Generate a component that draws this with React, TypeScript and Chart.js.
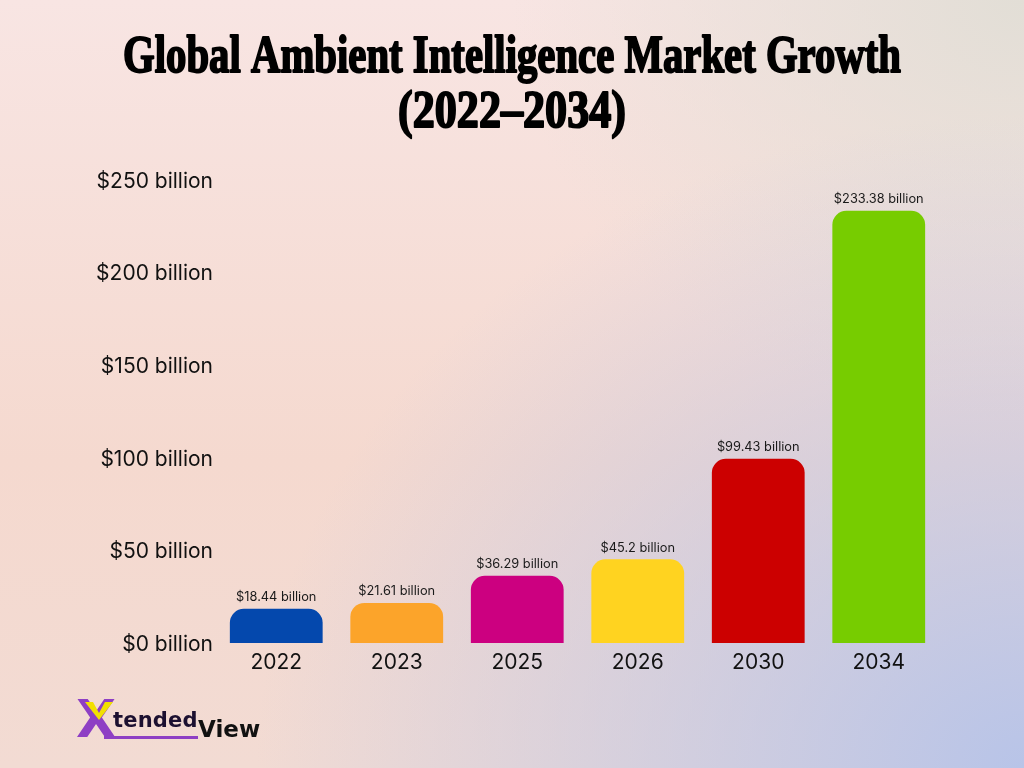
import React, { useEffect, useRef } from "react";
import { Chart, registerables } from "chart.js";

Chart.register(...registerables);

const years = ["2022", "2023", "2025", "2026", "2030", "2034"];
const marketValues = [18.44, 21.61, 36.29, 45.2, 99.43, 233.38];
const valueLabels = [
  "$18.44 billion",
  "$21.61 billion",
  "$36.29 billion",
  "$45.2 billion",
  "$99.43 billion",
  "$233.38 billion",
];
const barColors = ["#0448ad", "#fca42a", "#cc0080", "#ffd320", "#cc0000", "#77cc00"];
const yTickValues = [0, 50, 100, 150, 200, 250];
const titleLines = ["Global Ambient Intelligence Market Growth", "(2022–2034)"];

const TITLE_FONT = '"Liberation Serif", "DejaVu Serif", serif';
const UI_FONT = 'Inter, "Noto Sans", sans-serif';

const titlePlugin = {
  id: "condensedTitle",
  afterDraw(chart: any) {
    const ctx = chart.ctx;
    const specs = [
      { text: titleLines[0], baseline: 72, width: 778 },
      { text: titleLines[1], baseline: 127, width: 228 },
    ];
    ctx.save();
    ctx.fillStyle = "#000";
    ctx.strokeStyle = "#000";
    ctx.lineWidth = 2;
    ctx.lineJoin = "round";
    ctx.font = `bold 53px ${TITLE_FONT}`;
    ctx.textAlign = "center";
    ctx.textBaseline = "alphabetic";
    for (const s of specs) {
      const w = ctx.measureText(s.text).width;
      const sx = s.width / w;
      ctx.save();
      ctx.translate(512, s.baseline);
      ctx.scale(sx, 1);
      ctx.fillText(s.text, 0, 0);
      ctx.strokeText(s.text, 0, 0);
      ctx.restore();
    }
    ctx.restore();
  },
};

const valueLabelPlugin = {
  id: "valueLabels",
  afterDatasetsDraw(chart: any) {
    const ctx = chart.ctx;
    const meta = chart.getDatasetMeta(0);
    ctx.save();
    ctx.font = `12.8px ${UI_FONT}`;
    ctx.fillStyle = "#1a1a1a";
    ctx.textAlign = "center";
    ctx.textBaseline = "bottom";
    meta.data.forEach((bar: any, i: number) => {
      ctx.fillText(valueLabels[i], bar.x, bar.y - 5);
    });
    ctx.restore();
  },
};

function Logo() {
  return (
    <div
      style={{
        position: "absolute",
        left: 76,
        top: 698,
        height: 48,
        width: 200,
        fontFamily: '"DejaVu Sans", "Noto Sans", sans-serif',
      }}
    >
      <span
        style={{
          position: "absolute",
          left: 0,
          top: -8,
          fontSize: 52,
          fontWeight: 900,
          color: "#8e3fc4",
          lineHeight: "58px",
        }}
      >
        X
      </span>
      <svg width="32" height="18" style={{ position: "absolute", left: 7, top: 4 }}>
        <polygon points="2,0 10,0 16,11 22,0 30,0 16,18" fill="#f2e000" />
      </svg>
      <span
        style={{
          position: "absolute",
          left: 37,
          top: 10,
          fontSize: 21,
          fontWeight: 700,
          color: "#1c1030",
          lineHeight: "24px",
          letterSpacing: 0.2,
        }}
      >
        tended
      </span>
      <div
        style={{
          position: "absolute",
          left: 28,
          top: 38,
          width: 94,
          height: 3,
          background: "#8e3fc4",
        }}
      />
      <span
        style={{
          position: "absolute",
          left: 122,
          top: 18,
          fontSize: 23,
          fontWeight: 700,
          color: "#111",
          lineHeight: "26px",
        }}
      >
        View
      </span>
    </div>
  );
}

export default function App() {
  const canvasRef = useRef<HTMLCanvasElement | null>(null);

  useEffect(() => {
    if (!canvasRef.current) return;
    const chart = new Chart(canvasRef.current, {
      type: "bar",
      data: {
        labels: years,
        datasets: [
          {
            data: marketValues,
            backgroundColor: barColors,
            borderWidth: 0,
            borderRadius: { topLeft: 14, topRight: 14, bottomLeft: 0, bottomRight: 0 },
            borderSkipped: "bottom",
            barPercentage: 0.77,
            categoryPercentage: 1,
          },
        ],
      },
      options: {
        responsive: false,
        animation: false,
        layout: { padding: { top: 180, right: 85, left: 0, bottom: 0 } },
        plugins: {
          legend: { display: false },
          title: { display: false },
          tooltip: { enabled: false },
        },
        scales: {
          x: {
            grid: { display: false, drawTicks: false },
            border: { display: false },
            ticks: {
              color: "#111",
              font: { family: UI_FONT, size: 21 },
              padding: 7,
            },
            afterFit(scale: any) {
              scale.height = 125;
            },
          },
          y: {
            min: 0,
            max: 250,
            grid: { display: false, drawTicks: false },
            border: { display: false },
            afterBuildTicks(scale: any) {
              scale.ticks = yTickValues.map((v) => ({ value: v }));
            },
            ticks: {
              color: "#111",
              font: { family: UI_FONT, size: 21 },
              padding: 3,
              labelOffset: 1.5,
              callback: (v: any) => `$${v} billion`,
            },
            afterFit(scale: any) {
              scale.width = 216;
            },
          },
        },
      },
      plugins: [titlePlugin, valueLabelPlugin],
    });
    return () => chart.destroy();
  }, []);

  return (
    <div
      style={{
        position: "absolute",
        left: 0,
        top: 0,
        width: 1024,
        height: 768,
        overflow: "hidden",
        background:
          "radial-gradient(ellipse 75% 85% at 100% 100%, rgba(184,196,232,1) 0%, rgba(184,196,232,0.55) 45%, rgba(184,196,232,0) 100%), radial-gradient(ellipse 50% 55% at 100% 0%, rgba(226,222,214,1) 0%, rgba(226,222,214,0) 100%), linear-gradient(180deg, #f8e5e3 0%, #f5d9cf 60%, #f2dbd3 100%)",
      }}
    >
      <canvas ref={canvasRef} width={1024} height={768} style={{ display: "block" }} />
      <Logo />
    </div>
  );
}
